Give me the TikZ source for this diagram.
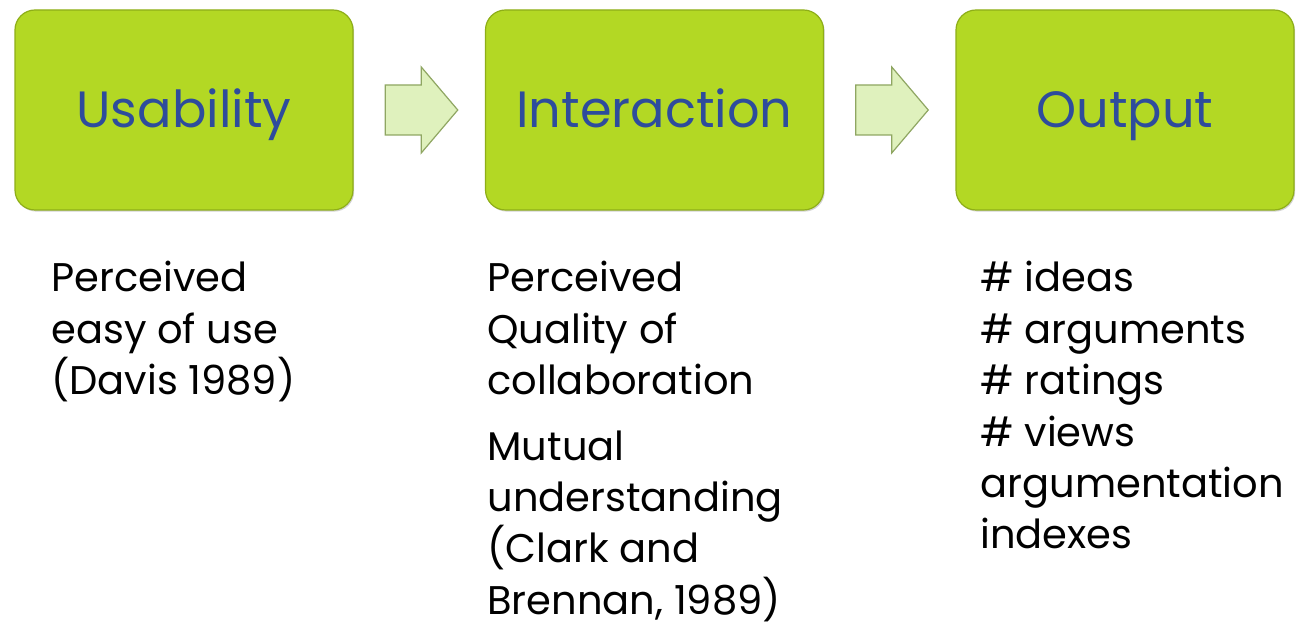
\documentclass[tikz,border=0pt]{standalone}
\usepackage{fontspec}
\setmainfont{Poppins}
\usetikzlibrary{calc, shadows}
\definecolor{boxgreen}{HTML}{B3D824}
\definecolor{boxedge}{HTML}{8EAE18}
\definecolor{arrowgreen}{HTML}{DFF1BD}
\definecolor{arrowedge}{HTML}{8FA662}
\definecolor{titleblue}{HTML}{2E4C9C}
\tikzset{stage/.style={draw=boxedge, line width=0.6pt, fill=boxgreen,
    rounded corners=10pt, minimum width=169pt, minimum height=100pt,
    drop shadow={shadow xshift=0.6pt, shadow yshift=-0.8pt, opacity=0.35},
    text height=18pt, text depth=0pt,
    text=titleblue, font=\fontsize{25.5}{30}\selectfont},
  notes/.style={anchor=north west, inner sep=0pt, align=left,
    font=\fontsize{20}{25.7}\selectfont},
  blockarrow/.style={draw=arrowedge, line width=0.6pt, fill=arrowgreen, line join=miter}}

\begin{document}
\begin{tikzpicture}[x=0.5pt, y=-0.5pt]
    \useasboundingbox (0,0) rectangle (1301,625);
    %The three stages:
    \node[stage] (usab) at (184,110) {Usability};
    \node[stage] (inter) at (654.5,110) {Interaction};
    \node[stage] (outp) at (1125,110) {Output};
    %Arrows half way between the stages:
    \coordinate (a1) at ($(usab.east)!0.5!(inter.west)+(2,0)$);
    \coordinate (a2) at ($(inter.east)!0.5!(outp.west)+(2,0)$);
    \foreach \a in {a1, a2}
        \draw[blockarrow] ($(\a)+(-36,-25)$) -- ($(\a)+(0,-25)$) -- ($(\a)+(0,-43)$)
            -- ($(\a)+(36.5,0)$) -- ($(\a)+(0,43)$) -- ($(\a)+(0,25)$) -- ($(\a)+(-36,25)$) -- cycle;
    %Measures below each stage:
    \node[notes] (usabtxt) at (51,261) {Perceived\\easy of use\\(Davis 1989)};
    \node[notes] (intertxt) at (487,261) {Perceived\\Quality of\\collaboration\\[7pt]Mutual\\understanding\\(Clark and\\Brennan, 1989)};
    \node[notes] (outptxt) at (980,261) {\# ideas\\\# arguments\\\# ratings\\\# views\\argumentation\\indexes};
\end{tikzpicture}
\end{document}
